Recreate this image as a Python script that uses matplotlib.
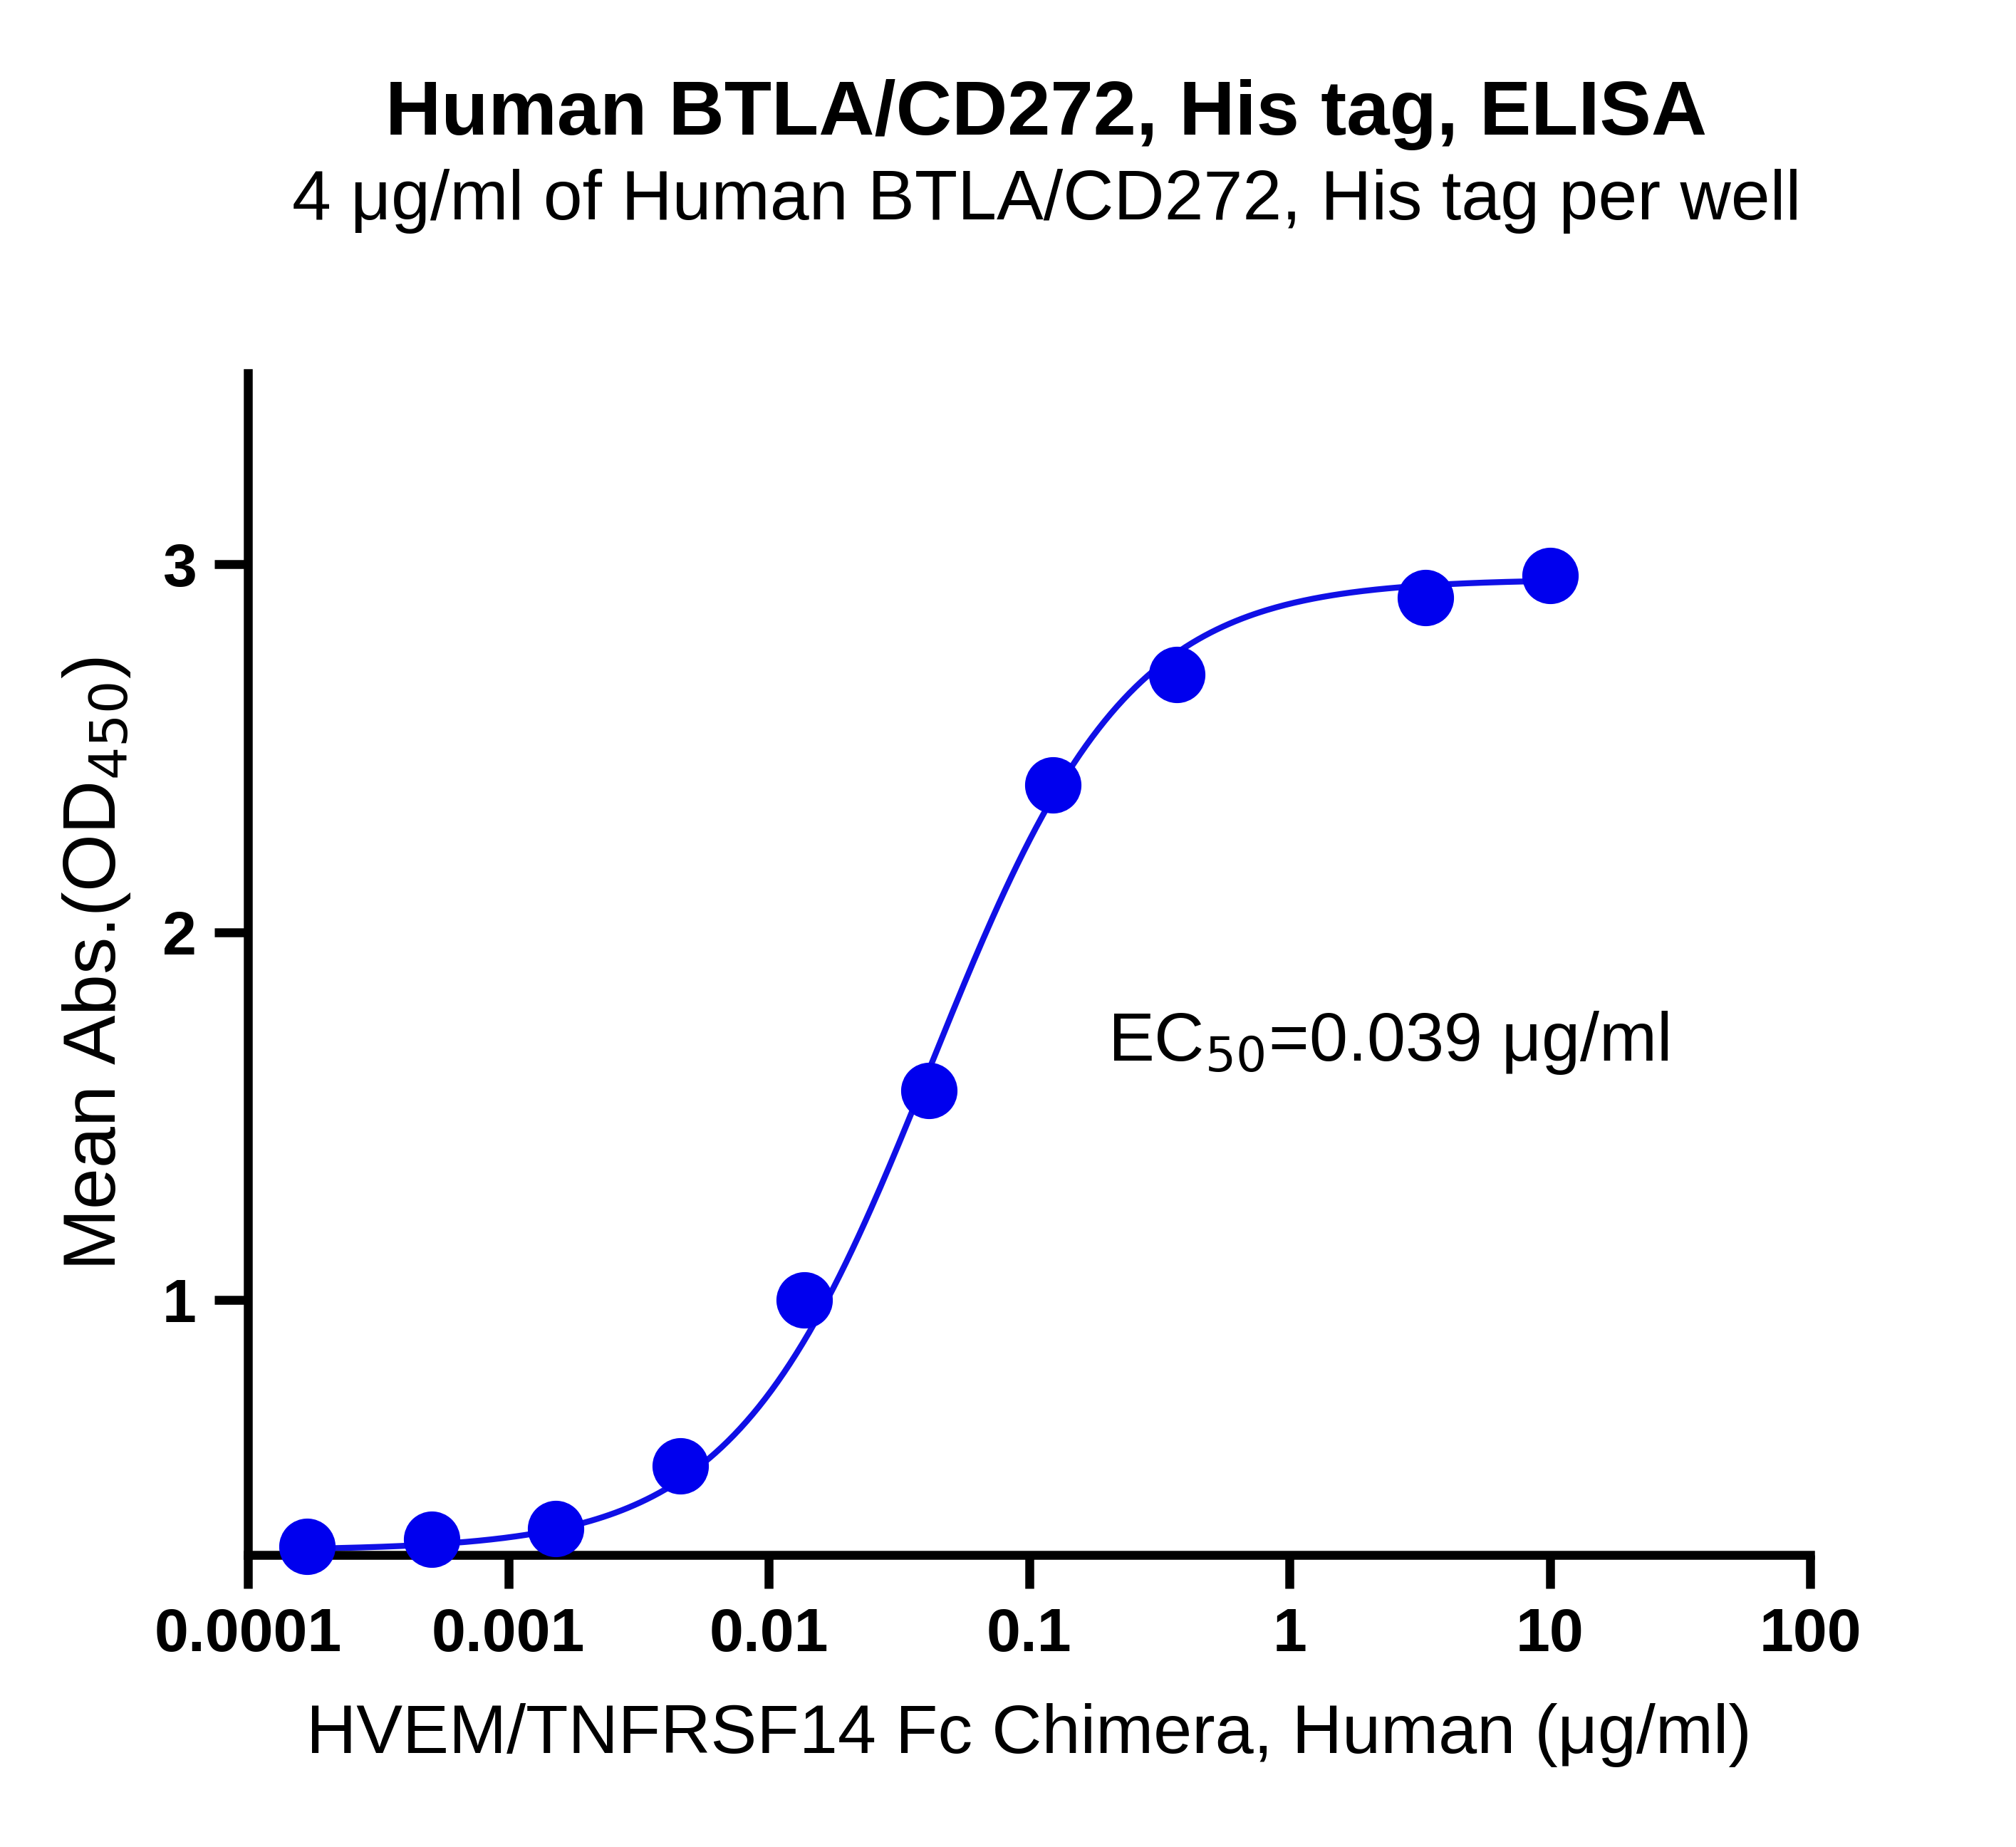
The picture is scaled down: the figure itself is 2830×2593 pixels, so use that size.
import numpy as np
import matplotlib.pyplot as plt

plt.rcParams['font.family'] = 'Liberation Sans'

# data
conc = [0.000169, 0.000508, 0.00152, 0.00457, 0.0137, 0.0412, 0.123, 0.370, 3.33, 10.0]
absorb = [0.33, 0.35, 0.38, 0.55, 1.00, 1.57, 2.40, 2.70, 2.91, 2.97]

# 4PL fit parameters
bottom, top, ec50, hill = 0.32, 2.96, 0.042, 1.15

fig = plt.figure(figsize=(28.30, 25.93), dpi=100)
ax = fig.add_axes([0.123, 0.158, 0.775, 0.64])

xf = np.logspace(np.log10(conc[0]), np.log10(conc[-1]), 400)
yf = bottom + (top - bottom) / (1 + (ec50 / xf) ** hill)
ax.plot(xf, yf, color='#1010e6', lw=6, zorder=2)
ax.plot(conc, absorb, 'o', color='#0000ee', markersize=56, zorder=3, clip_on=False)

ax.set_xscale('log')
ax.set_xlim(1e-4, 100)
ax.set_ylim(0.307, 3.52)
ax.set_xticks([1e-4, 1e-3, 1e-2, 1e-1, 1, 10, 100])
ax.set_xticklabels(['0.0001', '0.001', '0.01', '0.1', '1', '10', '100'])
ax.minorticks_off()
ax.set_yticks([1, 2, 3])
ax.set_yticklabels(['1', '2', '3'])
for s in ['top', 'right']:
    ax.spines[s].set_visible(False)
for s in ['left', 'bottom']:
    ax.spines[s].set_linewidth(9)
ax.tick_params(length=34, width=9, labelsize=62, pad=18)
for lab in ax.get_xticklabels() + ax.get_yticklabels():
    lab.set_fontweight('bold')

ax.set_xlabel('HVEM/TNFRSF14 Fc Chimera, Human (μg/ml)', fontsize=70, labelpad=40)
ax.set_ylabel('Mean Abs.(OD$_{450}$)', fontsize=75, labelpad=30)
ax.text(0.2, 1.7, 'EC$_{50}$=0.039 μg/ml', fontsize=70, va='center')

fig.text(0.519, 0.938, 'Human BTLA/CD272, His tag, ELISA', fontsize=78,
         fontweight='bold', ha='center', va='center')
fig.text(0.519, 0.891, '4 μg/ml of Human BTLA/CD272, His tag per well',
         fontsize=71, ha='center', va='center')

fig.savefig('out.png', dpi=100)
